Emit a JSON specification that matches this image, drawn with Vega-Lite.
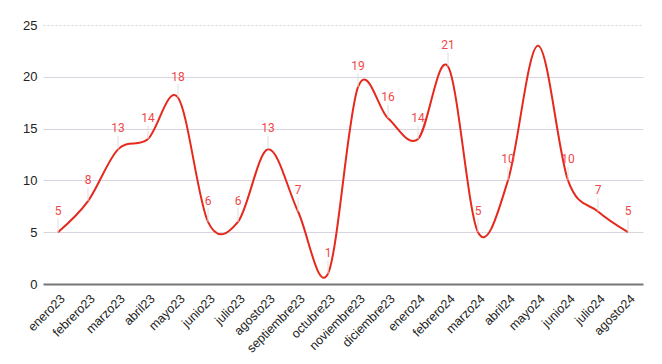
{
  "$schema": "https://vega.github.io/schema/vega-lite/v6.json",
  "width": 600,
  "height": 259,
  "autosize": {"type": "none"},
  "padding": {"left": 43, "top": 25, "right": 19, "bottom": 80},
  "background": "white",
  "config": {"view": {"stroke": null}, "font": "Liberation Sans"},
  "data": {
    "values": [
      {"mes": "enero23", "v": 5},
      {"mes": "febrero23", "v": 8},
      {"mes": "marzo23", "v": 13},
      {"mes": "abril23", "v": 14},
      {"mes": "mayo23", "v": 18},
      {"mes": "junio23", "v": 6},
      {"mes": "julio23", "v": 6},
      {"mes": "agosto23", "v": 13},
      {"mes": "septiembre23", "v": 7},
      {"mes": "octubre23", "v": 1},
      {"mes": "noviembre23", "v": 19},
      {"mes": "diciembre23", "v": 16},
      {"mes": "enero24", "v": 14},
      {"mes": "febrero24", "v": 21},
      {"mes": "marzo24", "v": 5},
      {"mes": "abril24", "v": 10},
      {"mes": "mayo24", "v": 23},
      {"mes": "junio24", "v": 10},
      {"mes": "julio24", "v": 7},
      {"mes": "agosto24", "v": 5}
    ]
  },
  "encoding": {
    "x": {
      "field": "mes", "type": "ordinal",
      "sort": ["enero23", "febrero23", "marzo23", "abril23", "mayo23", "junio23", "julio23", "agosto23", "septiembre23", "octubre23", "noviembre23", "diciembre23", "enero24", "febrero24", "marzo24", "abril24", "mayo24", "junio24", "julio24", "agosto24"],
      "scale": {"type": "point", "padding": 0.5},
      "axis": {
        "title": null, "labelAngle": -45, "labelFontSize": 12.5, "labelColor": "#222222",
        "domain": false, "ticks": false, "labelPadding": 8
      }
    },
    "y": {
      "field": "v", "type": "quantitative",
      "scale": {"domain": [0, 25], "nice": false},
      "axis": {
        "title": null, "values": [0, 5, 10, 15, 20, 25], "labelFontSize": 13, "labelColor": "#222222",
        "domain": false, "ticks": false, "labelPadding": 6,
        "gridColor": {"condition": {"test": "datum.value == 0", "value": "#777777"}, "value": "#d9d4df"},
        "gridWidth": {"condition": {"test": "datum.value == 0", "value": 2}, "value": 1},
        "gridDash": {"condition": {"test": "datum.value == 25", "value": [2, 2]}, "value": []}
      }
    }
  },
  "layer": [
    {
      "mark": {"type": "line", "interpolate": "cardinal", "color": "#e5291d", "strokeWidth": 2}
    },
    {
      "transform": [
        {"filter": "datum.mes != 'mayo24'"},
        {"calculate": "datum.v + 1.3", "as": "top"}
      ],
      "mark": {"type": "rule", "color": "#dddddd", "strokeWidth": 1},
      "encoding": {"y2": {"field": "top"}}
    },
    {
      "transform": [{"filter": "datum.mes != 'mayo24'"}],
      "mark": {"type": "text", "dy": -21, "fontSize": 12, "fill": "#f04848", "font": "Roboto"},
      "encoding": {"text": {"field": "v", "type": "quantitative"}}
    }
  ]
}
